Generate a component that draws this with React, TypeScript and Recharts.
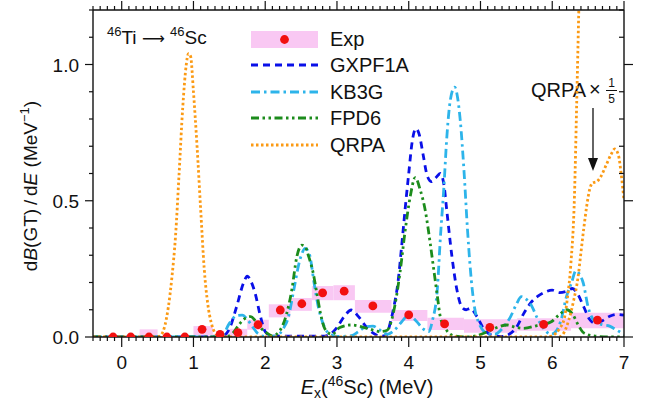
import React from "react";
import {
  ComposedChart,
  Line,
  Scatter,
  XAxis,
  YAxis,
  ReferenceArea,
  Legend,
  Customized,
} from "recharts";

const FONT = '"Liberation Sans", Arial, Helvetica, sans-serif';

// experimental points, bins and error band
const expE = [-0.12, 0.126, 0.38, 0.63, 0.88, 1.12, 1.37, 1.62, 1.9, 2.21, 2.51, 2.8, 3.1, 3.5, 4.0, 4.5, 5.13, 5.88, 6.63];
const expB = [0, 0, 0, 0, 0, 0.028, 0.01, 0.016, 0.045, 0.099, 0.122, 0.162, 0.168, 0.114, 0.081, 0.048, 0.035, 0.046, 0.062];
const binLo = [-0.25, 0, 0.25, 0.5, 0.75, 1.0, 1.27, 1.5, 1.75, 2.05, 2.35, 2.65, 2.95, 3.25, 3.76, 4.26, 4.77, 5.51, 6.26];
const binHi = [0, 0.25, 0.5, 0.75, 1.0, 1.27, 1.5, 1.75, 2.05, 2.35, 2.65, 2.95, 3.25, 3.76, 4.26, 4.77, 5.51, 6.26, 7.0];
const errLo = [0, 0, 0, 0, 0, 0.004, 0, 0, 0.027, 0.072, 0.096, 0.135, 0.135, 0.089, 0.059, 0.026, 0.016, 0.023, 0.032];
const errHi = [0.003, 0.003, 0.028, 0.003, 0.003, 0.04, 0.01, 0.03, 0.063, 0.12, 0.143, 0.187, 0.19, 0.136, 0.099, 0.071, 0.065, 0.069, 0.089];

const gxpfE = [-0.4, 1.3, 1.4, 1.5, 1.6, 1.7, 1.75, 1.8, 1.86, 1.93, 2.0, 2.1, 2.8, 2.9, 3.0, 3.1, 3.2, 3.3, 3.4, 3.5, 3.6, 3.68, 3.75, 3.8, 3.85, 3.9, 3.95, 4.0, 4.05, 4.1, 4.15, 4.2, 4.26, 4.32, 4.38, 4.44, 4.49, 4.53, 4.6, 4.67, 4.74, 4.8, 4.86, 4.95, 5.05, 5.15, 5.3, 5.4, 5.5, 5.6, 5.7, 5.8, 5.9, 6.0, 6.1, 6.2, 6.28, 6.35, 6.44, 6.52, 6.6, 6.7, 6.8, 6.9, 7.0];
const gxpfB = [0, 0, 0.002, 0.03, 0.11, 0.2, 0.223, 0.205, 0.16, 0.08, 0.02, 0.003, 0.003, 0.01, 0.035, 0.075, 0.099, 0.075, 0.04, 0.015, 0.003, 0.005, 0.06, 0.12, 0.2, 0.33, 0.47, 0.6, 0.72, 0.765, 0.74, 0.67, 0.59, 0.57, 0.585, 0.6, 0.56, 0.465, 0.3, 0.175, 0.11, 0.1, 0.105, 0.075, 0.028, 0.008, 0.002, 0.01, 0.035, 0.085, 0.125, 0.15, 0.165, 0.172, 0.163, 0.168, 0.178, 0.16, 0.11, 0.065, 0.05, 0.06, 0.076, 0.083, 0.08];

const kb3gE = [-0.4, 1.3, 1.4, 1.5, 1.6, 1.68, 1.75, 1.83, 1.9, 2.0, 2.15, 2.25, 2.32, 2.4, 2.48, 2.56, 2.62, 2.68, 2.74, 2.82, 2.9, 3.0, 3.2, 3.3, 3.4, 3.5, 3.6, 3.7, 3.8, 3.9, 4.0, 4.1, 4.2, 4.28, 4.33, 4.4, 4.44, 4.49, 4.53, 4.58, 4.64, 4.68, 4.72, 4.77, 4.82, 4.86, 4.91, 4.98, 5.1, 5.2, 5.3, 5.42, 5.5, 5.57, 5.63, 5.7, 5.8, 5.9, 5.98, 6.05, 6.12, 6.2, 6.27, 6.33, 6.38, 6.43, 6.5, 6.6, 6.7, 6.8, 6.9, 7.0];
const kb3gB = [0, 0, 0.005, 0.05, 0.078, 0.08, 0.065, 0.035, 0.012, 0.002, 0.003, 0.03, 0.07, 0.175, 0.28, 0.325, 0.3, 0.2, 0.11, 0.04, 0.01, 0.002, 0.005, 0.02, 0.037, 0.04, 0.025, 0.01, 0.025, 0.055, 0.08, 0.06, 0.03, 0.02, 0.06, 0.18, 0.36, 0.55, 0.73, 0.87, 0.917, 0.88, 0.79, 0.61, 0.39, 0.245, 0.12, 0.05, 0.012, 0.01, 0.03, 0.075, 0.12, 0.148, 0.14, 0.12, 0.065, 0.025, 0.01, 0.02, 0.06, 0.15, 0.2, 0.243, 0.23, 0.2, 0.11, 0.055, 0.045, 0.04, 0.025, 0.01];

const fpd6E = [-0.4, 1.45, 1.55, 1.62, 1.7, 1.8, 1.86, 1.95, 2.02, 2.1, 2.21, 2.3, 2.37, 2.44, 2.51, 2.56, 2.6, 2.67, 2.72, 2.77, 2.84, 2.93, 3.04, 3.2, 3.42, 3.6, 3.7, 3.76, 3.81, 3.88, 3.95, 4.02, 4.09, 4.16, 4.23, 4.3, 4.35, 4.4, 4.44, 4.51, 4.63, 4.8, 4.95, 5.1, 5.2, 5.37, 5.5, 5.6, 5.79, 5.98, 6.09, 6.2, 6.28, 6.36, 6.44, 6.58, 6.8, 7.0];
const fpd6B = [0, 0, 0.015, 0.04, 0.065, 0.075, 0.06, 0.03, 0.015, 0.004, 0.026, 0.087, 0.172, 0.294, 0.337, 0.33, 0.3, 0.233, 0.16, 0.087, 0.026, 0.01, 0.035, 0.044, 0.032, 0.02, 0.025, 0.06, 0.12, 0.24, 0.39, 0.514, 0.585, 0.54, 0.465, 0.343, 0.245, 0.148, 0.074, 0.032, 0.004, 0, 0.005, 0.02, 0.032, 0.044, 0.035, 0.032, 0.042, 0.055, 0.08, 0.1, 0.085, 0.045, 0.015, 0.004, 0, 0];

const qrpaE = [-0.4, 0.5, 0.55, 0.6, 0.65, 0.7, 0.75, 0.8, 0.85, 0.9, 0.93, 0.96, 1.0, 1.05, 1.1, 1.15, 1.2, 1.25, 1.3, 1.35, 1.4, 5.9, 6.0, 6.1, 6.17, 6.21, 6.26, 6.31, 6.34, 6.37, 6.4, 6.45];
const qrpaB = [0, 0, 0.008, 0.04, 0.11, 0.22, 0.37, 0.6, 0.84, 1.0, 1.04, 1.03, 0.9, 0.7, 0.47, 0.25, 0.12, 0.05, 0.015, 0.004, 0, 0, 0.005, 0.03, 0.07, 0.14, 0.27, 0.52, 0.85, 1.2, 1.55, 2.0];

// QRPA x 1/5, high-energy part
const qrpa5E = [6.1, 6.15, 6.23, 6.3, 6.36, 6.4, 6.44, 6.48, 6.52, 6.56, 6.62, 6.68, 6.75, 6.82, 6.87, 6.92, 6.96, 7.0];
const qrpa5B = [0, 0.01, 0.062, 0.136, 0.22, 0.31, 0.4, 0.48, 0.54, 0.565, 0.57, 0.59, 0.63, 0.67, 0.69, 0.67, 0.6, 0.5];

// ticks: every 0.1, labelled on integers (x) and on 0.5 steps (y)
const xTicks = Array.from({ length: 75 }, (_, i) => Math.round((-0.4 + i * 0.1) * 10) / 10);
const yTicks = Array.from({ length: 13 }, (_, i) => i / 10);
const isMajorX = (v: number) => Math.abs(v - Math.round(v)) < 1e-6;
const isMajorY = (v: number) => Math.abs(v * 2 - Math.round(v * 2)) < 1e-6;

const X_DOMAIN: [number, number] = [-0.4, 7];
const Y_DOMAIN: [number, number] = [0, 1.2];

const toRows = (e: number[], b: number[]) => e.map((x, i) => ({ x, y: b[i] }));

const SERIES = [
  { name: "GXPF1A", rows: toRows(gxpfE, gxpfB), color: "#0a10e8", dash: "7 5" },
  { name: "KB3G", rows: toRows(kb3gE, kb3gB), color: "#2db4ea", dash: "9 4 2.5 4" },
  { name: "FPD6", rows: toRows(fpd6E, fpd6B), color: "#1c8c1c", dash: "8 3.5 2.5 3.5 2.5 3.5" },
  { name: "QRPA", rows: toRows(qrpaE, qrpaB), color: "#fb9a14", dash: "2.5 2.5" },
];

const expRows = toRows(expE, expB);
const qrpa5Rows = toRows(qrpa5E, qrpa5B);

const PINK = "#f9c8f3";
const RED = "#f21010";
const AX = "#111";

function BottomTick({ x, y, payload }: any) {
  const major = isMajorX(payload.value);
  return (
    <g>
      <line x1={x} x2={x} y1={y} y2={y + (major ? 10 : 4)} stroke={AX} strokeWidth={1.2} />
      {major && (
        <text x={x} y={y + 32} textAnchor="middle" fontSize={19} fill={AX} fontFamily={FONT}>
          {Math.round(payload.value)}
        </text>
      )}
    </g>
  );
}

function TopTick({ x, y, payload }: any) {
  const major = isMajorX(payload.value);
  return <line x1={x} x2={x} y1={y} y2={y - (major ? 9 : 4)} stroke={AX} strokeWidth={1.2} />;
}

function LeftTick({ x, y, payload }: any) {
  const major = isMajorY(payload.value);
  return (
    <g>
      <line x1={x} x2={x - (major ? 8 : 4)} y1={y} y2={y} stroke={AX} strokeWidth={1.2} />
      {major && (
        <text x={x - 14} y={y + 7} textAnchor="end" fontSize={19} fill={AX} fontFamily={FONT}>
          {payload.value.toFixed(1)}
        </text>
      )}
    </g>
  );
}

function RightTick({ x, y, payload }: any) {
  const major = isMajorY(payload.value);
  return <line x1={x} x2={major ? x + 9 : x - 5} y1={y} y2={y} stroke={AX} strokeWidth={1.2} />;
}

function LegendBox() {
  const rowY = [14, 40, 67, 93, 120];
  return (
    <svg width={190} height={135} style={{ fontFamily: FONT }}>
      <rect x={6} y={6} width={67} height={17} fill={PINK} />
      <circle cx={39.5} cy={14.5} r={4.4} fill={RED} />
      {SERIES.map((s, i) => (
        <line
          key={s.name}
          x1={6}
          x2={73}
          y1={rowY[i + 1]}
          y2={rowY[i + 1]}
          stroke={s.color}
          strokeWidth={3}
          strokeDasharray={s.dash}
        />
      ))}
      {["Exp", ...SERIES.map((s) => s.name)].map((t, i) => (
        <text key={t} x={85} y={rowY[i] + 7} fontSize={20} fill={AX}>
          {t}
        </text>
      ))}
    </svg>
  );
}

function Annotations() {
  return (
    <g style={{ fontFamily: FONT }} fill={AX}>
      <text x={107} y={44} fontSize={19}>
        <tspan fontSize={13} dy={-8}>46</tspan>
        <tspan dy={8}>Ti </tspan>
        <tspan fontFamily="DejaVu Sans" fontSize={16}>⟶</tspan>
        <tspan> </tspan>
        <tspan fontSize={13} dy={-8}>46</tspan>
        <tspan dy={8}>Sc</tspan>
      </text>
      <text x={531} y={97} fontSize={20}>QRPA</text>
      <text x={589} y={96} fontSize={20}>×</text>
      <text x={611.5} y={87} fontSize={12} textAnchor="middle">1</text>
      <line x1={606} x2={617} y1={90.5} y2={90.5} stroke={AX} strokeWidth={1} />
      <text x={611.5} y={103} fontSize={12} textAnchor="middle">5</text>
      <line x1={593} x2={593} y1={108} y2={162} stroke={AX} strokeWidth={1.3} />
      <polygon points="588,158 598,158 593,171" fill={AX} />
      <text x={367} y={394} fontSize={20} textAnchor="middle">
        <tspan fontStyle="italic">E</tspan>
        <tspan fontSize={14} dy={4}>x</tspan>
        <tspan dy={-4}>(</tspan>
        <tspan fontSize={14} dy={-8}>46</tspan>
        <tspan dy={8}>Sc) (MeV)</tspan>
      </text>
      <text transform="rotate(-90)" x={-186} y={37} fontSize={19} textAnchor="middle">
        d<tspan fontStyle="italic">B</tspan>(GT)&#8201;/&#8201;d<tspan fontStyle="italic">E</tspan> (MeV
        <tspan fontSize={13} dy={-8}>−1</tspan>
        <tspan dy={8}>)</tspan>
      </text>
    </g>
  );
}

export default function App() {
  return (
    <div style={{ position: "absolute", left: 0, top: 0, fontFamily: FONT }}>
      <ComposedChart width={646} height={407} margin={{ top: 9, right: 21, bottom: 20, left: 33 }}>
        <XAxis
          xAxisId="x"
          type="number"
          dataKey="x"
          domain={X_DOMAIN}
          allowDataOverflow
          ticks={xTicks}
          interval={0}
          height={50}
          tickSize={0}
          tickMargin={0}
          tickLine={false}
          tick={<BottomTick />}
          stroke={AX}
          strokeWidth={1.4}
        />
        <XAxis
          xAxisId="top"
          orientation="top"
          type="number"
          dataKey="x"
          domain={X_DOMAIN}
          allowDataOverflow
          ticks={xTicks}
          interval={0}
          height={1}
          tickSize={0}
          tickMargin={0}
          tickLine={false}
          tick={<TopTick />}
          stroke={AX}
          strokeWidth={1.4}
        />
        <YAxis
          yAxisId="left"
          type="number"
          domain={Y_DOMAIN}
          allowDataOverflow
          ticks={yTicks}
          interval={0}
          width={60}
          tickSize={0}
          tickMargin={0}
          tickLine={false}
          tick={<LeftTick />}
          stroke={AX}
          strokeWidth={1.4}
        />
        <YAxis
          yAxisId="right"
          orientation="right"
          type="number"
          domain={Y_DOMAIN}
          allowDataOverflow
          ticks={yTicks}
          interval={0}
          width={1}
          tickSize={0}
          tickMargin={0}
          tickLine={false}
          tick={<RightTick />}
          stroke={AX}
          strokeWidth={1.4}
        />

        {expE.map((_, i) => (
          <ReferenceArea
            key={`bin-${i}`}
            xAxisId="x"
            yAxisId="left"
            x1={binLo[i]}
            x2={binHi[i]}
            y1={errLo[i]}
            y2={errHi[i]}
            fill={PINK}
            fillOpacity={1}
            stroke="none"
          />
        ))}

        {SERIES.map((s) => (
          <Line
            key={s.name}
            xAxisId="x"
            yAxisId="left"
            data={s.rows}
            dataKey="y"
            type="monotone"
            stroke={s.color}
            strokeWidth={2.8}
            strokeDasharray={s.dash}
            dot={false}
            isAnimationActive={false}
          />
        ))}
        <Line
          xAxisId="x"
          yAxisId="left"
          data={qrpa5Rows}
          dataKey="y"
          type="monotone"
          stroke="#fb9a14"
          strokeWidth={2.8}
          strokeDasharray="2.5 2.5"
          dot={false}
          isAnimationActive={false}
        />
        <Scatter
          xAxisId="x"
          yAxisId="left"
          data={expRows}
          dataKey="y"
          fill={RED}
          isAnimationActive={false}
          shape={(p: any) => <circle cx={p.cx} cy={p.cy} r={4.4} fill={RED} />}
        />
        <Legend
          layout="horizontal"
          verticalAlign="middle"
          align="center"
          wrapperStyle={{ left: 245, top: 25, width: 190, height: 135 }}
          content={() => <LegendBox />}
        />
        <Customized component={Annotations} />
      </ComposedChart>
    </div>
  );
}
